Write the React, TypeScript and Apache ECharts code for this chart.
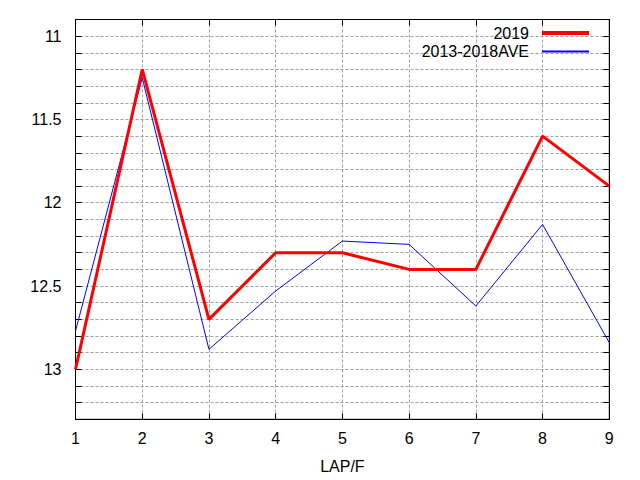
import React, { useEffect, useRef } from "react";
import * as echarts from "echarts";

const laps = [1, 2, 3, 4, 5, 6, 7, 8, 9];
const series2019 = [13.0, 11.2, 12.7, 12.3, 12.3, 12.4, 12.4, 11.6, 11.9];
const seriesAve = [12.77, 11.25, 12.88, 12.53, 12.23, 12.25, 12.62, 12.13, 12.84];
const seriesNames = ["2019", "2013-2018AVE"];
const xName = "LAP/F";

const FONT = "Liberation Sans, Arial, sans-serif";

export default function App() {
  const ref = useRef<HTMLDivElement>(null);
  useEffect(() => {
    if (!ref.current) return;
    const chart = echarts.init(ref.current, undefined, { renderer: "svg" });
    const gridLine = { show: true, lineStyle: { color: "#a0a0a0", type: [3, 2] as any, width: 1 } };
    const yLabelFmt = (v: number) => {
      const r = Math.round(v * 10);
      return r % 5 === 0 ? String(r / 10) : "";
    };
    chart.setOption({
      animation: false,
      backgroundColor: "#ffffff",
      textStyle: { fontFamily: FONT },
      grid: {
        left: 75.5, top: 19.5, right: 30.7, bottom: 60.7,
        outerBoundsMode: "none", containLabel: false,
        show: true, borderColor: "#000", borderWidth: 1, backgroundColor: "transparent",
      },
      legend: {
        orient: "vertical",
        right: 44,
        top: 20,
        align: "right",
        itemWidth: 47,
        itemHeight: 14,
        itemGap: 2.5,
        itemStyle: { opacity: 0 },
        textStyle: { fontFamily: FONT, fontSize: 16, color: "#000", padding: [0, 8, 0, 0] },
        data: [
          { name: seriesNames[0], lineStyle: { width: 4, color: "#ff0000", type: "solid" } },
          seriesNames[1],
        ],
      },
      xAxis: [
        {
          type: "value",
          min: 1,
          max: 9,
          interval: 1,
          name: xName,
          nameLocation: "middle",
          nameGap: 39,
          nameTextStyle: { fontFamily: FONT, fontSize: 16, color: "#000" },
          axisLine: { show: true, lineStyle: { color: "#000" } },
          axisTick: { show: true, inside: true, length: 6, lineStyle: { color: "#000" } },
          axisLabel: { fontFamily: FONT, fontSize: 16, color: "#000", margin: 11 },
          splitLine: gridLine,
        },
        {
          type: "value",
          position: "top",
          min: 1,
          max: 9,
          interval: 1,
          axisLine: { show: true, lineStyle: { color: "#000" } },
          axisTick: { show: true, inside: true, length: 6, lineStyle: { color: "#000" } },
          axisLabel: { show: false },
          splitLine: { show: false },
        },
      ],
      yAxis: [
        {
          type: "value",
          inverse: true,
          min: 10.9,
          max: 13.3,
          interval: 0.1,
          axisLine: { show: true, lineStyle: { color: "#000" } },
          axisTick: { show: true, inside: true, length: 6, lineStyle: { color: "#000" } },
          axisLabel: { fontFamily: FONT, fontSize: 16, color: "#000", margin: 14, formatter: yLabelFmt },
          splitLine: gridLine,
        },
        {
          type: "value",
          position: "right",
          inverse: true,
          min: 10.9,
          max: 13.3,
          interval: 0.1,
          axisLine: { show: true, lineStyle: { color: "#000" } },
          axisTick: { show: true, inside: true, length: 6, lineStyle: { color: "#000" } },
          axisLabel: { show: false },
          splitLine: { show: false },
        },
      ],
      series: [
        {
          name: seriesNames[0],
          type: "line",
          data: laps.map((x, i) => [x, series2019[i]]),
          symbol: "none",
          lineStyle: { color: "#ff0000", width: 3 },
          itemStyle: { color: "#ff0000" },
          z: 3,
        },
        {
          name: seriesNames[1],
          type: "line",
          data: laps.map((x, i) => [x, seriesAve[i]]),
          symbol: "none",
          lineStyle: { color: "#0000ff", width: 1 },
          itemStyle: { color: "#0000ff" },
          z: 2,
        },
      ],
    });
    return () => chart.dispose();
  }, []);
  return <div ref={ref} style={{ position: "fixed", left: 0, top: 0, width: 640, height: 480 }} />;
}
